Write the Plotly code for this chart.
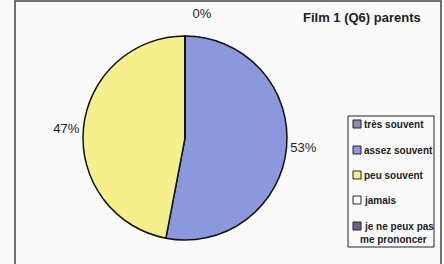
import plotly.graph_objects as go

categories = ["très souvent", "assez souvent", "peu souvent", "jamais", "je ne peux pas<br>me prononcer"]
values = [0, 53, 47, 0, 0]
show_label = [True, True, True, False, False]
colors = ["#8a8fae", "#8c98dc", "#f6f08c", "#ffffff", "#6e5e8e"]
title_text = "Film 1 (Q6) parents"

W, H = 444, 264
FONT = "Liberation Sans, Arial, sans-serif"

def px(x):
    return x / W

def py(y):
    return 1 - y / H

def label_template(v, show):
    if not show:
        return ""
    if v == 0:
        # zero slice sits at the top: keep its label clear of the outline
        return "%{percent:.0%}<br><span style='font-size:3px'> </span>"
    return "%{percent:.0%}"

fig = go.Figure(go.Pie(
    labels=categories,
    values=values,
    sort=False,
    direction="clockwise",
    rotation=0,
    marker=dict(colors=colors, line=dict(color="#111111", width=1.5)),
    texttemplate=[label_template(v, s) for v, s in zip(values, show_label)],
    textposition="outside",
    textfont=dict(family=FONT, size=13, color="#222222"),
    domain=dict(x=[px(83), px(287)], y=[py(240), py(36)]),
    showlegend=False,
    hoverinfo="label+percent",
))

# manual legend built from the categories / colours lists
leg_left, leg_top, leg_right, leg_bottom = 348, 116, 434, 247
item_y = [124, 150, 175, 200, 232]
shapes = [dict(type="rect", xref="paper", yref="paper",
               x0=px(15), x1=px(441), y0=py(1), y1=-0.1,
               line=dict(color="#444444", width=1.5)),
          dict(type="rect", xref="paper", yref="paper",
               x0=px(leg_left), x1=px(leg_right), y0=py(leg_top), y1=py(leg_bottom),
               line=dict(color="#222222", width=1))]
annotations = [dict(
    text="<b>" + title_text + "</b>", x=px(423), y=py(17), xref="paper", yref="paper",
    xanchor="right", yanchor="middle", showarrow=False,
    font=dict(size=13, family=FONT, color="#222222"))]

for cat, col, yc in zip(categories, colors, item_y):
    my = yc if "<br>" not in cat else yc - 6
    shapes.append(dict(type="rect", xref="paper", yref="paper",
                       x0=px(353), x1=px(361), y0=py(my - 4), y1=py(my + 4),
                       fillcolor=col, line=dict(color="#222222", width=1)))
    lines = cat.split("<br>")
    if len(lines) == 1:
        annotations.append(dict(text="<b>" + cat + "</b>", x=px(362), y=py(yc),
                                xref="paper", yref="paper", xanchor="left", yanchor="middle",
                                showarrow=False, font=dict(size=10, family=FONT, color="#222222")))
    else:
        annotations.append(dict(text="<b>" + lines[0] + "</b>", x=px(362), y=py(yc - 6),
                                xref="paper", yref="paper", xanchor="left", yanchor="middle",
                                showarrow=False, font=dict(size=10, family=FONT, color="#222222")))
        annotations.append(dict(text="<b>" + lines[1] + "</b>", x=px(393), y=py(yc + 7),
                                xref="paper", yref="paper", xanchor="center", yanchor="middle",
                                showarrow=False, font=dict(size=10, family=FONT, color="#222222")))

fig.update_layout(
    width=W, height=H,
    margin=dict(l=0, r=0, t=0, b=0, autoexpand=False),
    paper_bgcolor="#fafafa",
    font=dict(family=FONT, color="#222222"),
    annotations=annotations,
    shapes=shapes,
)

fig.write_html("out.html", config={"displayModeBar": False},
               post_script="document.body.style.margin='0';")
